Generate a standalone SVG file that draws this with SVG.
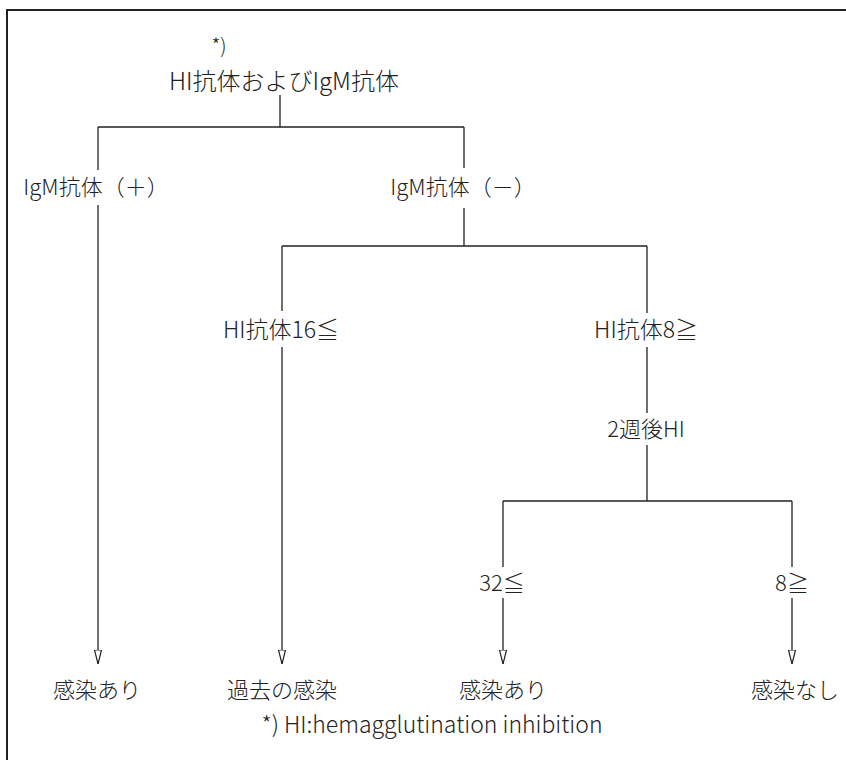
<svg xmlns="http://www.w3.org/2000/svg" width="846" height="760" viewBox="0 0 846 760">
<style>
.t{font-family:"Noto Sans CJK JP","Liberation Sans",sans-serif;font-size:22px;fill:#222;text-anchor:middle;font-weight:300}
.l{font-size:23px}
.c{stroke:#222;stroke-width:1.3;fill:none}
.f{stroke:#222;stroke-width:2;fill:none}
</style>
<defs>
<marker id="ah" viewBox="0 0 14 10" refX="14" refY="5" markerWidth="14" markerHeight="10" markerUnits="userSpaceOnUse" orient="auto">
<path d="M0,1.5 L14,5 L0,8.5 Z" fill="#fff" stroke="#222" stroke-width="1.2"/>
</marker>
</defs>
<rect width="846" height="760" fill="#fff"/>
<path class="f" d="M7,760 V10 H846"/>
<g id="connectors">
<path class="c" d="M280,95 V127 M98,127 H464 M98,127 V170 M464,127 V168"/>
<path class="c" d="M98,205 V664" marker-end="url(#ah)"/>
<path class="c" d="M464,208 V246 M282,246 H647 M282,246 V311 M647,246 V313"/>
<path class="c" d="M282,347 V664" marker-end="url(#ah)"/>
<path class="c" d="M647,347 V413 M647,445 V501 M503,501 H792 M503,501 V567 M792,501 V567"/>
<path class="c" d="M503,598 V664" marker-end="url(#ah)"/>
<path class="c" d="M792,598 V664" marker-end="url(#ah)"/>
</g>
<g id="root">
<text class="t" x="219" y="53" style="font-size:20px">*)</text>
<text class="t" x="284" y="90" style="font-size:24px">HI抗体およびIgM抗体</text>
</g>
<g id="igm_pos"><text class="t" x="96" y="195">IgM抗体（＋）</text></g>
<g id="igm_neg"><text class="t" x="463" y="195">IgM抗体（－）</text></g>
<g id="hi16"><text class="t l" x="281" y="338">HI抗体16≦</text></g>
<g id="hi8"><text class="t l" x="646" y="338">HI抗体8≧</text></g>
<g id="week2"><text class="t" x="646" y="437">2週後HI</text></g>
<g id="ge32"><text class="t" x="502" y="591">32≦</text></g>
<g id="le8"><text class="t" x="792" y="591">8≧</text></g>
<g id="res1"><text class="t" x="97" y="698">感染あり</text></g>
<g id="res2"><text class="t" x="282" y="698">過去の感染</text></g>
<g id="res3"><text class="t" x="503" y="698">感染あり</text></g>
<g id="res4"><text class="t" x="795" y="698">感染なし</text></g>
<g id="footnote"><text class="t l" x="432" y="733">*)  HI:hemagglutination inhibition</text></g>
</svg>
